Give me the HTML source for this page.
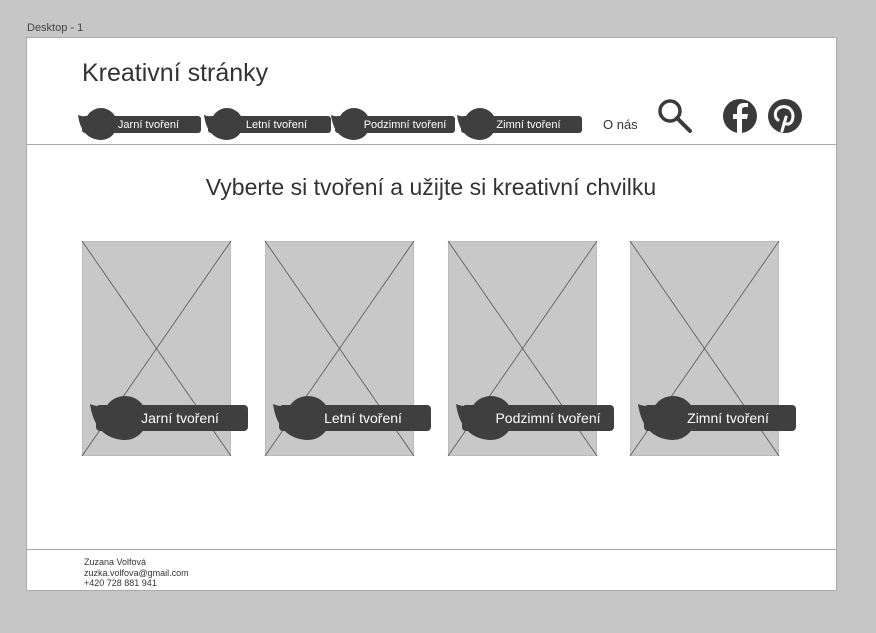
<!DOCTYPE html>
<html><head><meta charset="utf-8"><style>
body{margin:0;width:876px;height:633px;background:#c6c6c6;position:relative;overflow:hidden;font-family:"Liberation Sans",sans-serif;}
.a{position:absolute}
.t{color:#333}
.bt{position:absolute;color:#fff;text-align:center;white-space:nowrap}
.nt{top:117px;height:17px;font-size:11px;line-height:17px}
.ct{top:405px;height:26px;font-size:14px;line-height:26px}
</style></head><body>
<svg class="a" style="left:0;top:0" width="876" height="633">
<rect x="26.5" y="37.5" width="810" height="553" fill="#fff" stroke="#aaa"/>
<line x1="26" y1="144.5" x2="837" y2="144.5" stroke="#aaa"/>
<line x1="26" y1="549.5" x2="837" y2="549.5" stroke="#aaa"/>
<g fill="#c8c8c8" stroke="#bbb">
<rect x="82.5" y="241.5" width="148" height="214"/>
<rect x="265.5" y="241.5" width="148" height="214"/>
<rect x="448.5" y="241.5" width="148" height="214"/>
<rect x="630.5" y="241.5" width="148" height="214"/>
</g>
<g stroke="#555" stroke-width="0.8">
<line x1="82" y1="241" x2="231" y2="456"/><line x1="231" y1="241" x2="82" y2="456"/>
<line x1="265" y1="241" x2="414" y2="456"/><line x1="414" y1="241" x2="265" y2="456"/>
<line x1="448" y1="241" x2="597" y2="456"/><line x1="597" y1="241" x2="448" y2="456"/>
<line x1="630" y1="241" x2="779" y2="456"/><line x1="779" y1="241" x2="630" y2="456"/>
</g>
<defs>
<g id="nb"><circle cx="21" cy="124" r="16"/><path d="M-2 115 Q10 120 21 108 L21 140 Q1 139 -2 115 Z"/></g>
<g id="cb"><circle cx="33" cy="418" r="22"/><path d="M-2 404 Q14 411 33 396 L33 440 Q3 439 -2 404 Z"/></g>
</defs>
<g fill="#3f3f3f">
<g transform="translate(80,0)"><rect x="2" y="116" width="119" height="17" rx="3"/><use href="#nb"/></g>
<g transform="translate(206,0)"><rect x="2" y="116" width="123" height="17" rx="3"/><use href="#nb"/></g>
<g transform="translate(333,0)"><rect x="2" y="116" width="120" height="17" rx="3"/><use href="#nb"/></g>
<g transform="translate(459,0)"><rect x="2" y="116" width="121" height="17" rx="3"/><use href="#nb"/></g>
<g transform="translate(92,0)"><rect x="4" y="405" width="152" height="26" rx="4"/><use href="#cb"/></g>
<g transform="translate(275,0)"><rect x="4" y="405" width="152" height="26" rx="4"/><use href="#cb"/></g>
<g transform="translate(458,0)"><rect x="4" y="405" width="152" height="26" rx="4"/><use href="#cb"/></g>
<g transform="translate(640,0)"><rect x="4" y="405" width="152" height="26" rx="4"/><use href="#cb"/></g>
</g>
<circle cx="670" cy="111" r="10" fill="none" stroke="#3a3a3a" stroke-width="3.5"/>
<line x1="677" y1="118" x2="690" y2="131" stroke="#3a3a3a" stroke-width="4" stroke-linecap="round"/>
<circle cx="740" cy="116" r="17" fill="#3a3a3a"/>
<path d="M742 133 V119 H747 L748 114 H742 V110 Q742 107 745 107 H748 V103 H744 Q737 103 737 110 V114 H733 V119 H737 V133 Z" fill="#fff"/>
<circle cx="785" cy="116" r="17" fill="#3a3a3a"/>
<path d="M782 131 L786 117 M784 123 Q789 126 792 121 Q795 113 789 108 Q781 104 776 111 Q774 117 778 120" fill="none" stroke="#fff" stroke-width="3" stroke-linecap="round"/>
</svg>
<div class="a" style="font-size:11px;color:#444;left:27px;top:22px">Desktop - 1</div>
<div class="a t" style="left:82px;top:59px;font-size:25px">Kreativní stránky</div>

<div class="bt nt" style="left:102px;width:93px">Jarní tvoření</div>
<div class="bt nt" style="left:228px;width:97px">Letní tvoření</div>
<div class="bt nt" style="left:355px;width:100px">Podzimní tvoření</div>
<div class="bt nt" style="left:481px;width:95px">Zimní tvoření</div>
<div class="a t" style="left:603px;top:117px;font-size:13px">O nás</div>

<div class="a t" style="left:0;width:862px;text-align:center;top:174px;font-size:23px">Vyberte si tvoření a užijte si kreativní chvilku</div>

<div class="bt ct" style="left:118px;width:124px">Jarní tvoření</div>
<div class="bt ct" style="left:301px;width:124px">Letní tvoření</div>
<div class="bt ct" style="left:484px;width:128px">Podzimní tvoření</div>
<div class="bt ct" style="left:666px;width:124px">Zimní tvoření</div>

<div class="a t" style="left:84px;top:557px;font-size:9px;line-height:10.5px">Zuzana Volfová<br>zuzka.volfova@gmail.com<br>+420 728 881 941</div>
</body></html>
